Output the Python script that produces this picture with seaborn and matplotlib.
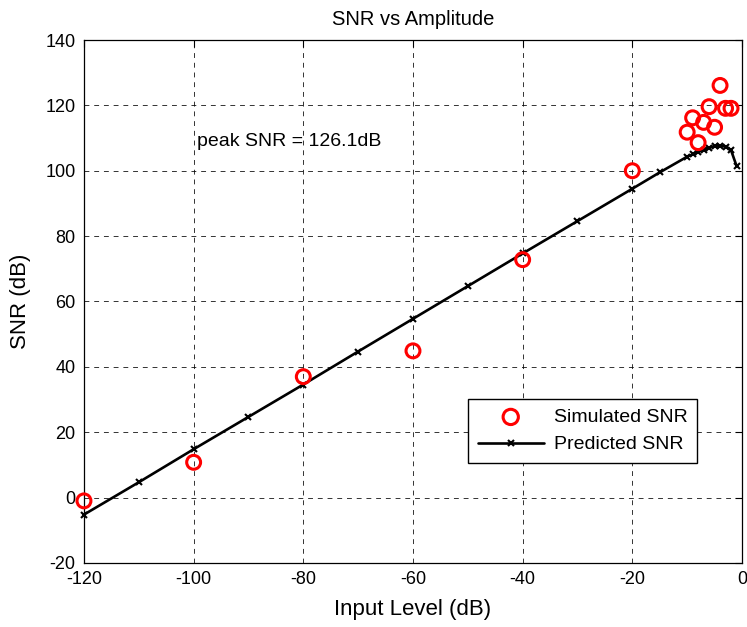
import matplotlib
matplotlib.use("Agg")
import matplotlib.pyplot as plt
import seaborn as sns
import pandas as pd

sns.set_style("white")
plt.rcParams['font.family'] = ['Liberation Sans', 'DejaVu Sans']
plt.rcParams['axes.unicode_minus'] = False
plt.rcParams['text.color'] = 'black'
plt.rcParams['axes.labelcolor'] = 'black'
plt.rcParams['xtick.color'] = 'black'
plt.rcParams['ytick.color'] = 'black'

# Simulated SNR (red circles)
sim_x = [-120, -100, -80, -60, -40, -20, -10, -9, -8, -7, -6, -5, -4, -3, -2]
sim_y = [-1.0, 10.8, 37.0, 44.9, 72.8, 100.0, 111.8, 116.2, 108.6, 114.8, 119.6, 113.3, 126.1, 119.1, 119.1]

# Predicted SNR (black line with x markers)
pred_x = [-120, -110, -100, -90, -80, -70, -60, -50, -40, -30, -20, -15,
          -10, -9, -8, -7, -6, -5, -4, -3, -2, -1]
pred_y = [-5.2, 4.7, 14.8, 24.7, 34.6, 44.7, 54.7, 64.7, 74.7, 84.6, 94.5, 99.5,
          104.3, 105.0, 105.8, 106.5, 107.1, 107.5, 107.6, 107.4, 106.3, 101.5]

xticks = [-120, -100, -80, -60, -40, -20, 0]
yticks = [-20, 0, 20, 40, 60, 80, 100, 120, 140]

sim_df = pd.DataFrame({"x": sim_x, "y": sim_y})
pred_df = pd.DataFrame({"x": pred_x, "y": pred_y})

fig = plt.figure(figsize=(7.47, 6.27), dpi=100)
ax = fig.add_axes([0.1124, 0.1021, 0.8809, 0.8341])

sns.scatterplot(data=sim_df, x="x", y="y", ax=ax, marker="o", s=100,
                facecolors="none", edgecolor="red", linewidth=2.2,
                label="Simulated SNR", zorder=3, clip_on=False)
sns.lineplot(data=pred_df, x="x", y="y", ax=ax, color="black", linewidth=1.9,
             marker="x", markersize=4, markeredgewidth=1.5, markeredgecolor="black",
             label="Predicted SNR", zorder=2, sort=False, clip_on=False)

ax.set_xlim(-120, 0)
ax.set_ylim(-20, 140)
ax.set_xticks(xticks)
ax.set_yticks(yticks)
ax.tick_params(direction="in", top=True, right=True, length=5, width=0.8,
               labelsize=13, colors="black", pad=6)
ax.grid(True, color="black", linestyle=(0, (5, 5)), linewidth=0.7, alpha=0.8)
for s in ax.spines.values():
    s.set_visible(True)
    s.set_color("black")
    s.set_linewidth(0.9)

ax.set_title("SNR vs Amplitude", fontsize=14.5, pad=11)
ax.set_xlabel("Input Level (dB)", fontsize=16, labelpad=8)
ax.set_ylabel("SNR (dB)", fontsize=16, labelpad=10)

ax.text(-99.4, 108.8, "peak SNR = 126.1dB", fontsize=14, va="center", ha="left")

leg = ax.legend(loc="lower right", bbox_to_anchor=(0.9316, 0.191), fontsize=14,
                frameon=True, fancybox=False, edgecolor="black", framealpha=1,
                handlelength=3.4, handletextpad=0.5, borderpad=0.5,
                labelspacing=0.5, borderaxespad=0, markerscale=1.1)
leg.get_frame().set_linewidth(1.0)

fig.savefig("out.png", dpi=100)
